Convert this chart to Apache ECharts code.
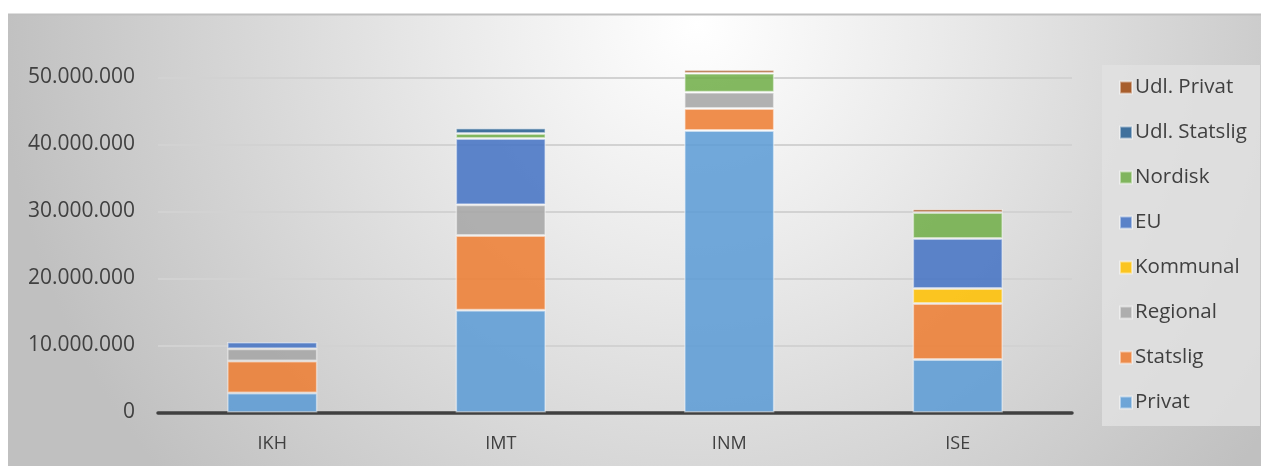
<!DOCTYPE html>
<html>
<head>
<meta charset="utf-8">
<script src="https://cdn.jsdelivr.net/npm/echarts@6/dist/echarts.min.js"></script>
<style>
  html, body { margin: 0; padding: 0; background: #ffffff; }
  #chart { width: 1261px; height: 466px; }
</style>
</head>
<body>
<div id="chart"></div>
<script>
// Funding per institute, stacked by source (DKK)
const categories = ['IKH', 'IMT', 'INM', 'ISE'];
const privat      = [2900000, 15250000, 42100000, 7900000];
const statslig    = [4800000, 11150000, 3280000, 8360000];
const regional    = [1800000, 4620000, 2400000, 0];
const kommunal    = [0, 0, 0, 2240000];
const eu          = [1040000, 9860000, 0, 7460000];
const nordisk     = [0, 760000, 2840000, 3880000];
const udlStatslig = [0, 820000, 0, 0];
const udlPrivat   = [0, 0, 520000, 520000];
const yTicks = [0, 10000000, 20000000, 30000000, 40000000, 50000000];

const seriesDefs = [
  { name: 'Privat',        values: privat,      color: '#5b9bd5' },
  { name: 'Statslig',      values: statslig,    color: '#ed7d31' },
  { name: 'Regional',      values: regional,    color: '#a5a5a5' },
  { name: 'Kommunal',      values: kommunal,    color: '#ffc000' },
  { name: 'EU',            values: eu,          color: '#4472c4' },
  { name: 'Nordisk',       values: nordisk,     color: '#70ad47' },
  { name: 'Udl. Statslig', values: udlStatslig, color: '#255e91' },
  { name: 'Udl. Privat',   values: udlPrivat,   color: '#9e480e' }
];

const fmt = v => String(Math.round(v)).replace(/\B(?=(\d{3})+(?!\d))/g, '.');
const FONT = '"Open Sans", "Noto Sans", sans-serif';

const chart = echarts.init(document.getElementById('chart'), null, { renderer: 'canvas' });

const series = seriesDefs.map(d => ({
  name: d.name,
  type: 'bar',
  stack: 'total',
  barWidth: '39.5%',
  data: d.values.map(v => (v === 0 ? '-' : v)),
  itemStyle: {
    color: d.color,
    opacity: 0.86,
    borderColor: 'rgba(255,255,255,0.55)',
    borderWidth: 1.5
  },
  emphasis: { disabled: true }
}));

const gridColor = '#d2d2d2';

chart.setOption({
  animation: false,
  graphic: [
    {
      type: 'rect',
      z: -10,
      silent: true,
      shape: { x: 8, y: 15, width: 1253, height: 451 },
      style: {
        fill: {
          type: 'radial', x: 0.55, y: 0.02, r: 1.55,
          colorStops: [
            { offset: 0, color: '#ffffff' },
            { offset: 0.35, color: '#eaeaea' },
            { offset: 1, color: '#c0c0c0' }
          ]
        }
      }
    },
    {
      type: 'rect',
      z: -9,
      silent: true,
      shape: { x: 8, y: 13.5, width: 1253, height: 2 },
      style: { fill: '#bfbfbf' }
    },
    {
      type: 'rect',
      z: -8,
      silent: true,
      shape: { x: 1102, y: 65, width: 158, height: 361 },
      style: { fill: 'rgba(225,225,225,0.85)' }
    }
  ],
  grid: { left: 158, right: 189, top: 10.5, bottom: 53.5, containLabel: false },
  legend: {
    orient: 'vertical',
    left: 1114,
    top: 72,
    data: seriesDefs.map(d => d.name).reverse(),
    icon: 'rect',
    itemWidth: 12,
    itemHeight: 12,
    itemGap: 24,
    selectedMode: false,
    textStyle: { fontFamily: FONT, fontSize: 20.5, color: '#404040', lineHeight: 20, padding: [0, 0, 0, -2] }
  },
  xAxis: {
    type: 'category',
    data: categories,
    axisLine: { show: true, lineStyle: { color: '#404040', width: 3.5 } },
    axisTick: { show: false },
    axisLabel: { fontFamily: FONT, fontSize: 18, color: '#404040', margin: 22 }
  },
  yAxis: {
    type: 'value',
    min: 0,
    max: 60000000,
    interval: 10000000,
    axisLine: { show: false },
    axisTick: { show: false },
    axisLabel: {
      showMaxLabel: false,
      fontFamily: FONT,
      fontSize: 21,
      color: '#404040',
      margin: 23,
      formatter: v => (yTicks.indexOf(v) >= 0 ? fmt(v) : '')
    },
    splitLine: {
      show: true,
      lineStyle: {
        color: [gridColor, gridColor, gridColor, gridColor, gridColor, gridColor, 'rgba(0,0,0,0)'],
        width: 2
      }
    }
  },
  series: series
});
</script>
</body>
</html>
